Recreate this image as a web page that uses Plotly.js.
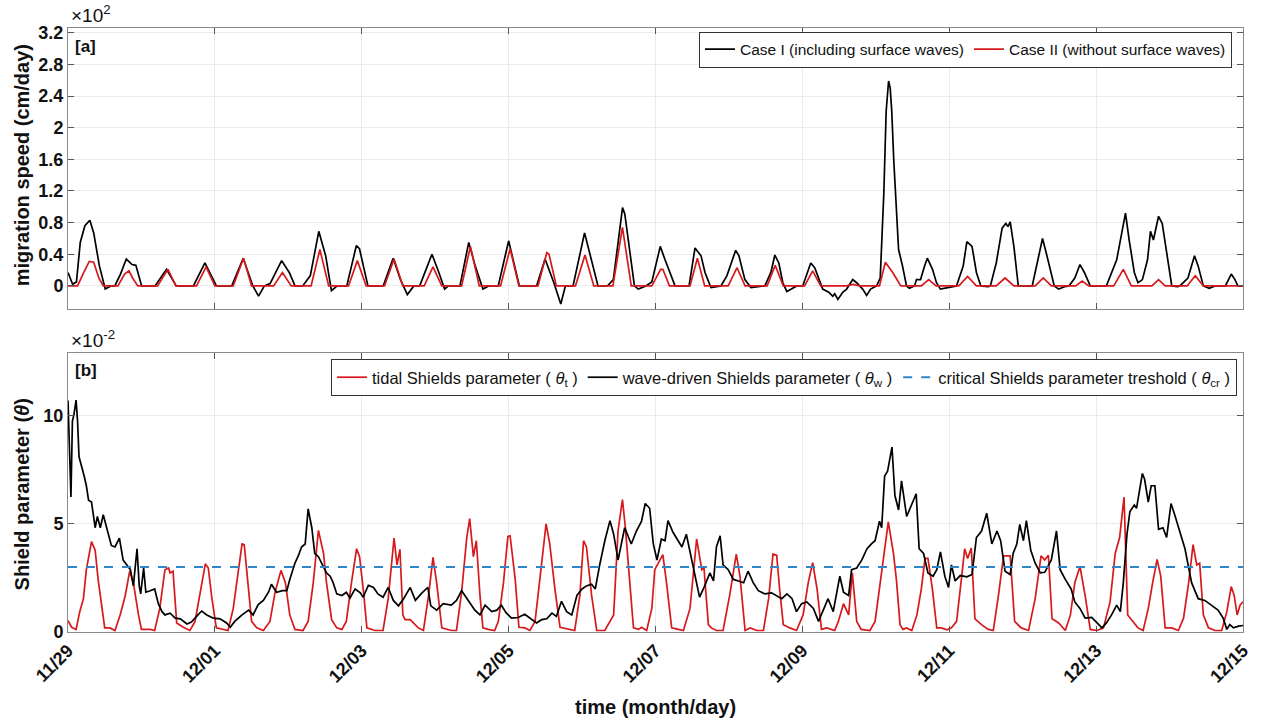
<!DOCTYPE html>
<html>
<head>
<meta charset="utf-8">
<script src="https://cdn.plot.ly/plotly-3.0.1.min.js"></script>
<style>html,body{margin:0;padding:0;background:#fff;}#chart{width:1263px;height:723px;}</style>
</head>
<body>
<div id="chart"></div>
<script>
// ---- time axis (days since 11/29 00:00) ----
const tickDays = [0, 2, 4, 6, 8, 10, 12, 14, 16];
const tickLabels = ['11/29', '12/01', '12/03', '12/05', '12/07', '12/09', '12/11', '12/13', '12/15'];

// ---- panel [a]: migration speed (x10^2 cm/day) ----
const caseIDays = [0.000,0.063,0.115,0.167,0.230,0.298,0.350,0.428,0.507,0.585,0.637,0.715,0.794,0.872,0.924,1.003,1.185,1.342,1.473,1.708,1.864,2.021,2.230,2.386,2.517,2.595,2.674,2.752,2.909,3.013,3.091,3.196,3.300,3.415,3.509,3.587,3.666,3.796,3.927,3.969,4.084,4.292,4.428,4.527,4.621,4.710,4.789,4.956,5.050,5.128,5.180,5.337,5.457,5.546,5.650,5.728,5.859,6.000,6.146,6.381,6.496,6.616,6.710,6.773,6.877,7.034,7.217,7.347,7.426,7.551,7.582,7.713,7.765,7.869,7.950,8.065,8.130,8.266,8.457,8.538,8.620,8.674,8.755,8.891,8.973,9.092,9.136,9.217,9.299,9.489,9.571,9.625,9.679,9.734,9.788,9.924,10.005,10.114,10.168,10.223,10.277,10.359,10.413,10.440,10.484,10.549,10.603,10.685,10.739,10.821,10.875,10.929,11.011,11.060,11.109,11.141,11.174,11.196,11.217,11.245,11.283,11.310,11.364,11.418,11.457,11.527,11.554,11.609,11.663,11.701,11.772,11.826,11.880,11.989,12.098,12.19,12.24,12.31,12.37,12.43,12.53,12.56,12.64,12.72,12.77,12.80,12.83,12.88,12.94,13.13,13.21,13.27,13.32,13.43,13.49,13.57,13.63,13.71,13.78,13.84,13.92,14.14,14.28,14.33,14.40,14.45,14.52,14.57,14.63,14.70,14.74,14.78,14.85,14.90,14.97,15.03,15.11,15.14,15.25,15.34,15.39,15.46,15.54,15.62,15.76,15.84,15.89,15.93,16.00];
const caseIValues = [0.17,0.02,0.05,0.55,0.76,0.83,0.67,0.25,-0.04,0,0,0.15,0.34,0.27,0.26,0,0,0.21,0,0,0.29,0,0,0.35,0,-0.13,0,0.03,0.32,0.17,0,0,0.13,0.69,0.38,-0.06,0,0,0.51,0.47,0,0,0.35,0.08,-0.11,0,0,0.40,0.17,-0.04,0,0,0.55,0.25,-0.04,0,0,0.57,0,0,0.34,0.04,-0.23,0,0,0.67,0,0,0.08,0.99,0.91,0,-0.04,0,0.05,0.50,0.33,0,0,0.48,0.38,0.17,-0.02,0,0.13,0.45,0.38,0.08,-0.02,0,0.17,0.39,0.29,0.04,-0.07,0,0,0.29,0.23,0.08,-0.04,-0.08,-0.13,-0.10,-0.17,-0.08,-0.04,0.08,0.04,-0.04,-0.12,-0.04,0,0.10,1.17,2.21,2.59,2.50,2.21,1.58,0.83,0.46,0.25,0,-0.03,0,0.08,0.08,0.25,0.35,0.21,0.04,-0.04,-0.02,0,0.25,0.56,0.50,0.17,0,-0.01,0,0.29,0.73,0.79,0.75,0.81,0.50,0,0,0.33,0.60,0.42,0,-0.04,-0.01,0,0.10,0.27,0.17,0,0,0.33,0.58,0.92,0.58,0.17,0.04,0.08,0.33,0.69,0.58,0.88,0.79,0.33,0,-0.01,0,0.10,0.38,0.25,0,-0.03,0,0,0.15,0.08,0,0];

const caseIIDays = [0.00,0.13,0.22,0.29,0.35,0.42,0.48,0.68,0.77,0.83,0.88,0.95,1.22,1.36,1.47,1.75,1.88,2.00,2.25,2.39,2.50,2.80,2.92,3.04,3.31,3.43,3.55,3.82,3.94,4.06,4.31,4.44,4.56,4.85,4.97,5.09,5.36,5.48,5.60,5.89,6.02,6.14,6.40,6.52,6.55,6.65,6.91,7.04,7.16,7.42,7.55,7.67,7.95,8.07,8.10,8.19,8.47,8.57,8.67,8.99,9.11,9.22,9.52,9.63,9.74,10.03,10.14,10.25,10.60,10.69,10.78,11.05,11.13,11.23,11.34,11.62,11.72,11.82,12.13,12.25,12.37,12.64,12.76,12.88,13.17,13.28,13.39,13.72,13.81,13.90,14.24,14.37,14.48,14.76,14.85,14.94,15.24,15.35,15.46,16.00];
const caseIIValues = [0,0,0.18,0.31,0.30,0.10,0,0,0.15,0.19,0.10,0,0,0.21,0,0,0.24,0,0,0.35,0,0,0.17,0,0,0.46,0,0,0.32,0,0,0.34,0,0,0.24,0,0,0.50,0,0,0.47,0,0,0.42,0.40,0,0,0.39,0,0,0.74,0,0,0.21,0.21,0,0,0.35,0,0,0.23,0,0,0.26,0,0,0.19,0,0,0.02,0,0,0.30,0.17,0,0,0.08,0,0,0.12,0,0,0.10,0,0,0.10,0,0,0.06,0,0,0.21,0,0,0.08,0,0,0.13,0,0];

// ---- panel [b]: Shields parameter (x10^-2) ----
const tidalDays = [0.00,0.05,0.11,0.16,0.21,0.25,0.32,0.37,0.41,0.48,0.50,0.57,0.64,0.71,0.78,0.84,0.89,0.96,1.00,1.12,1.18,1.25,1.32,1.37,1.39,1.43,1.48,1.57,1.66,1.73,1.80,1.87,1.91,1.96,2.02,2.11,2.18,2.25,2.32,2.37,2.40,2.46,2.50,2.57,2.66,2.75,2.82,2.90,2.96,3.02,3.09,3.20,3.27,3.34,3.41,3.48,3.52,3.59,3.66,3.73,3.79,3.86,3.93,3.97,4.02,4.07,4.18,4.29,4.36,4.44,4.48,4.52,4.56,4.59,4.66,4.77,4.84,4.91,4.97,5.02,5.09,5.22,5.29,5.36,5.43,5.47,5.52,5.56,5.61,5.65,5.72,5.81,5.86,5.93,5.99,6.02,6.09,6.14,6.22,6.29,6.36,6.43,6.51,6.56,6.63,6.70,6.81,6.90,6.97,7.02,7.06,7.13,7.20,7.31,7.43,7.49,7.55,7.59,7.65,7.70,7.77,7.81,7.88,7.95,7.99,8.10,8.15,8.22,8.31,8.38,8.47,8.56,8.63,8.66,8.72,8.76,8.83,8.92,9.01,9.10,9.15,9.22,9.29,9.38,9.47,9.54,9.60,9.65,9.69,9.74,9.83,9.92,10.01,10.08,10.14,10.20,10.26,10.33,10.44,10.49,10.56,10.63,10.68,10.74,10.80,10.92,10.99,11.08,11.17,11.24,11.28,11.33,11.37,11.42,11.49,11.56,11.62,11.67,11.71,11.77,11.83,11.89,11.97,12.03,12.10,12.17,12.21,12.25,12.30,12.35,12.44,12.53,12.60,12.67,12.74,12.83,12.89,12.98,13.08,13.17,13.25,13.30,13.35,13.40,13.49,13.58,13.65,13.71,13.78,13.85,13.92,14.01,14.10,14.19,14.26,14.32,14.38,14.43,14.48,14.57,14.64,14.71,14.77,14.83,14.88,14.94,15.03,15.12,15.19,15.26,15.32,15.37,15.41,15.46,15.53,15.62,15.71,15.78,15.84,15.88,15.92,15.96,16.00];
const tidalValues = [0.52,0.22,0.12,0.94,1.54,2.88,4.18,3.78,2.43,0.49,0.19,0.19,0.07,0.79,1.69,2.81,2.28,0.79,0.12,0.12,0.07,1.09,2.88,2.96,2.73,2.81,0.42,0.22,0.07,0.49,1.84,3.15,2.96,1.54,0.19,0.12,0.07,1.09,2.88,4.07,4.04,1.99,0.49,0.19,0.07,0.49,1.84,2.85,2.28,0.79,0.12,0.07,0.49,2.28,4.70,3.63,2.28,0.57,0.19,0.12,0.49,2.28,3.85,3.48,1.99,0.19,0.07,0.07,1.54,4.34,3.10,3.82,0.79,0.57,0.57,0.19,0.07,1.69,3.45,2.28,0.19,0.07,0.07,1.84,4.37,5.24,3.48,4.22,1.69,0.19,0.12,0.07,0.49,2.28,4.42,4.45,2.43,0.22,0.19,0.07,0.49,2.58,5.00,4.07,1.99,0.22,0.12,0.07,1.69,4.22,3.93,1.69,0.07,0.07,0.79,4.67,6.12,4.82,2.28,0.19,0.12,0.22,0.07,1.09,2.88,3.58,2.28,0.19,0.12,0.07,1.09,4.30,2.88,2.96,0.34,0.19,0.07,0.07,1.69,3.60,2.58,0.07,0.19,0.07,0.07,1.54,3.60,3.55,1.99,0.34,0.19,0.07,0.79,2.28,3.21,1.99,0.12,0.19,0.07,0.49,1.31,0.79,2.73,0.49,0.12,0.07,0.49,2.88,5.09,3.63,2.43,0.34,0.12,0.19,0.07,0.79,1.99,3.40,3.40,1.99,0.19,0.19,0.10,0.19,0.49,2.58,3.85,3.40,3.88,0.61,0.34,0.12,0.07,1.69,3.52,3.52,0.49,0.19,0.07,1.54,3.52,3.33,3.55,0.61,0.42,0.07,0.79,2.28,3.03,1.69,0.12,0.07,0.19,1.39,3.63,4.37,6.24,0.79,0.57,0.19,0.07,1.09,2.28,3.36,2.58,0.19,0.19,0.07,0.64,2.28,4.04,3.10,3.18,0.79,0.19,0.07,0.07,0.94,2.10,1.69,0.79,1.24,1.40];

const waveDays = [0.00,0.02,0.04,0.06,0.08,0.11,0.13,0.15,0.19,0.22,0.25,0.28,0.32,0.37,0.40,0.44,0.48,0.53,0.59,0.64,0.70,0.75,0.80,0.85,0.89,0.94,0.97,0.99,1.03,1.06,1.12,1.18,1.23,1.28,1.32,1.39,1.46,1.53,1.62,1.68,1.75,1.82,1.89,1.98,2.07,2.16,2.21,2.27,2.37,2.46,2.52,2.59,2.66,2.73,2.77,2.84,2.92,2.98,3.02,3.09,3.14,3.18,3.23,3.27,3.32,3.36,3.41,3.48,3.52,3.57,3.61,3.66,3.73,3.79,3.84,3.91,3.98,4.02,4.09,4.16,4.22,4.29,4.36,4.43,4.50,4.57,4.66,4.73,4.82,4.90,4.94,5.02,5.11,5.22,5.29,5.36,5.45,5.54,5.61,5.68,5.77,5.84,5.90,5.97,6.04,6.13,6.22,6.31,6.38,6.45,6.52,6.59,6.65,6.72,6.79,6.86,6.93,7.00,7.06,7.13,7.18,7.24,7.31,7.38,7.43,7.49,7.58,7.67,7.74,7.81,7.86,7.92,7.97,8.02,8.08,8.13,8.17,8.24,8.31,8.36,8.42,8.49,8.56,8.60,8.67,8.74,8.79,8.83,8.88,8.92,8.99,9.06,9.13,9.20,9.26,9.33,9.40,9.49,9.58,9.65,9.72,9.79,9.86,9.92,9.99,10.06,10.15,10.22,10.29,10.35,10.42,10.51,10.56,10.63,10.67,10.74,10.81,10.88,10.94,10.99,11.05,11.08,11.12,11.16,11.22,11.26,11.31,11.35,11.42,11.49,11.55,11.59,11.65,11.71,11.78,11.83,11.88,11.94,11.99,12.03,12.08,12.15,12.24,12.31,12.37,12.44,12.51,12.58,12.65,12.70,12.76,12.83,12.87,12.92,12.96,13.01,13.05,13.11,13.17,13.24,13.30,13.39,13.46,13.51,13.58,13.66,13.71,13.78,13.85,13.94,14.01,14.08,14.14,14.21,14.28,14.33,14.37,14.42,14.46,14.52,14.55,14.60,14.63,14.66,14.71,14.75,14.80,14.85,14.91,14.96,15.02,15.07,15.12,15.21,15.30,15.39,15.48,15.57,15.66,15.73,15.78,15.82,15.87,15.94,16.00];
const waveValues = [10.70,8.25,6.24,9.75,10.04,10.72,9.75,8.10,7.66,7.21,6.76,6.09,6.01,4.82,5.34,4.82,5.42,4.82,4.00,3.93,4.34,3.33,3.10,2.88,2.13,3.85,2.13,1.76,2.96,1.84,1.91,1.99,1.31,0.94,0.79,0.87,0.64,0.61,0.37,0.46,0.72,0.97,0.79,0.64,0.61,0.42,0.22,0.49,0.79,1.01,0.79,1.27,1.46,1.84,2.21,1.84,1.91,1.91,2.43,3.18,3.55,3.93,4.07,5.69,4.82,3.63,3.48,2.96,2.73,2.58,2.28,1.76,1.69,1.84,1.57,1.99,1.81,1.61,2.16,2.06,1.76,1.61,2.06,1.46,1.21,1.54,2.06,1.46,1.81,2.06,1.21,1.01,1.31,1.24,1.46,1.91,1.46,1.01,0.79,1.24,0.94,1.01,1.24,0.87,0.64,0.67,0.82,0.61,0.42,0.57,0.61,0.87,0.72,1.42,0.94,0.79,1.69,1.99,2.13,2.21,1.99,3.10,4.22,5.15,4.52,3.33,4.82,4.07,4.67,5.12,5.94,5.72,4.07,3.33,4.30,4.22,5.15,4.60,4.22,3.93,4.52,3.33,2.28,1.61,2.13,2.73,2.36,3.93,4.45,3.10,2.88,2.43,2.36,2.28,2.81,2.28,1.91,1.76,1.81,1.66,1.54,1.76,1.54,0.94,1.31,1.39,1.09,0.49,1.09,1.54,0.94,2.58,1.84,1.69,2.88,2.96,3.33,3.85,4.07,4.22,5.12,4.82,7.21,7.43,8.55,6.31,5.64,6.99,5.34,5.87,6.39,3.85,3.63,2.73,2.58,2.88,3.70,2.58,2.06,3.10,2.36,2.61,2.55,2.66,4.37,4.67,5.49,4.07,4.67,4.22,2.81,2.66,3.63,4.07,4.97,4.22,5.15,3.78,3.18,2.73,2.76,3.33,4.67,2.88,2.43,1.99,1.39,1.09,0.64,0.67,0.42,0.19,0.42,0.79,1.24,0.94,2.28,4.52,5.57,5.87,5.72,6.76,7.33,7.06,6.01,6.76,6.76,4.75,4.82,4.37,5.94,5.42,4.82,3.85,2.28,1.54,1.46,1.24,1.01,0.64,0.12,0.34,0.19,0.27,0.30];

const criticalTheta = 3.0;
const fullSpan = [0, 16];

const topTicks = [0, 0.4, 0.8, 1.2, 1.6, 2, 2.4, 2.8, 3.2];
const topTickText = ['0', '0.4', '0.8', '1.2', '1.6', '2', '2.4', '2.8', '3.2'];
const botTicks = [0, 5, 10];
const botTickText = ['0', '5', '10'];

// ---- styling ----
const FONT = 'Liberation Sans, Arial, sans-serif';
const RED = '#d7191c';
const BLUE = '#2f86c8';
const GRID = '#ebebeb';
const FRAME = '#8a8a8a';

const traces = [
  {x: caseIDays, y: caseIValues, xaxis: 'x2', yaxis: 'y2', mode: 'lines', name: 'Case I (including surface waves)',
   line: {color: '#000', width: 1.7}, legend: 'legend'},
  {x: caseIIDays, y: caseIIValues, xaxis: 'x2', yaxis: 'y2', mode: 'lines', name: 'Case II (without surface waves)',
   line: {color: RED, width: 1.7}, legend: 'legend'},
  {x: tidalDays, y: tidalValues, xaxis: 'x', yaxis: 'y', mode: 'lines', name: 'tidal Shields parameter ( <i>θ</i><sub>t</sub> )',
   line: {color: RED, width: 1.7}, legend: 'legend2'},
  {x: waveDays, y: waveValues, xaxis: 'x', yaxis: 'y', mode: 'lines', name: 'wave-driven Shields parameter ( <i>θ</i><sub>w</sub> )',
   line: {color: '#000', width: 1.7}, legend: 'legend2'},
  {x: fullSpan, y: fullSpan.map(() => criticalTheta), xaxis: 'x', yaxis: 'y', mode: 'lines',
   name: 'critical Shields parameter treshold ( <i>θ</i><sub>cr</sub> )',
   line: {color: BLUE, width: 2, dash: 'dash'}, legend: 'legend2'}
];

const commonX = {
  range: [0, 16], tickvals: tickDays, showgrid: true, gridcolor: GRID, gridwidth: 1,
  showline: true, linecolor: FRAME, linewidth: 1, mirror: 'ticks', ticks: 'inside', ticklen: 6,
  tickcolor: '#555', zeroline: false, automargin: false
};
const commonY = {
  showgrid: true, gridcolor: GRID, gridwidth: 1, showline: true, linecolor: FRAME, linewidth: 1,
  mirror: 'ticks', ticks: 'inside', ticklen: 6, tickcolor: '#555', zeroline: false, automargin: false,
  tickfont: {family: FONT, size: 18, color: '#111', weight: 'bold'}
};

const layout = {
  width: 1263, height: 723,
  margin: {l: 68, r: 20, t: 28, b: 91, pad: 0},
  paper_bgcolor: '#fff', plot_bgcolor: '#fff',
  showlegend: true,
  xaxis: Object.assign({}, commonX, {anchor: 'y', domain: [0, 1], ticktext: tickLabels, tickangle: -45,
    tickfont: {family: FONT, size: 18, color: '#111', weight: 'bold'}}),
  xaxis2: Object.assign({}, commonX, {anchor: 'y2', domain: [0, 1], matches: 'x', showticklabels: false}),
  yaxis: Object.assign({}, commonY, {anchor: 'x', domain: [0, 0.462], range: [0, 12.9], tickvals: botTicks, ticktext: botTickText}),
  yaxis2: Object.assign({}, commonY, {anchor: 'x2', domain: [0.535, 1], range: [-0.29, 3.26], tickvals: topTicks, ticktext: topTickText}),
  legend: {x: 0.9906, y: 0.994, xanchor: 'right', yanchor: 'top', orientation: 'h',
    bgcolor: '#fff', bordercolor: '#333', borderwidth: 1, itemwidth: 30,
    font: {family: FONT, size: 15.5, color: '#111'}, tracegroupgap: 0},
  legend2: {x: 0.9949, y: 0.452, xanchor: 'right', yanchor: 'top', orientation: 'h',
    bgcolor: '#fff', bordercolor: '#333', borderwidth: 1, itemwidth: 30,
    font: {family: FONT, size: 16.5, color: '#111'}, tracegroupgap: 0},
  annotations: [
    {text: '×10<sup>2</sup>', xref: 'paper', yref: 'paper', x: 0.001, y: 1.0, xanchor: 'left', yanchor: 'bottom',
     showarrow: false, font: {family: FONT, size: 19, color: '#111'}},
    {text: '×10<sup>-2</sup>', xref: 'paper', yref: 'paper', x: 0.001, y: 0.462, xanchor: 'left', yanchor: 'bottom',
     showarrow: false, font: {family: FONT, size: 19, color: '#111'}},
    {text: '[a]', xref: 'paper', yref: 'paper', x: 0.004, y: 0.988, xanchor: 'left', yanchor: 'top',
     showarrow: false, font: {family: FONT, size: 17, color: '#111', weight: 'bold'}},
    {text: '[b]', xref: 'paper', yref: 'paper', x: 0.004, y: 0.452, xanchor: 'left', yanchor: 'top',
     showarrow: false, font: {family: FONT, size: 17, color: '#111', weight: 'bold'}},
    {text: 'migration speed (cm/day)', xref: 'paper', yref: 'paper', x: -0.039, y: 0.773, xanchor: 'center', yanchor: 'middle',
     textangle: -90, showarrow: false, font: {family: FONT, size: 20, color: '#111', weight: 'bold'}},
    {text: 'Shield parameter (<i>θ</i>)', xref: 'paper', yref: 'paper', x: -0.039, y: 0.228, xanchor: 'center', yanchor: 'middle',
     textangle: -90, showarrow: false, font: {family: FONT, size: 20, color: '#111', weight: 'bold'}},
    {text: 'time (month/day)', xref: 'paper', yref: 'paper', x: 0.5, y: -0.124, xanchor: 'center', yanchor: 'middle',
     showarrow: false, font: {family: FONT, size: 20, color: '#111', weight: 'bold'}}
  ]
};

Plotly.newPlot('chart', traces, layout, {displayModeBar: false, staticPlot: true});
</script>
</body>
</html>
